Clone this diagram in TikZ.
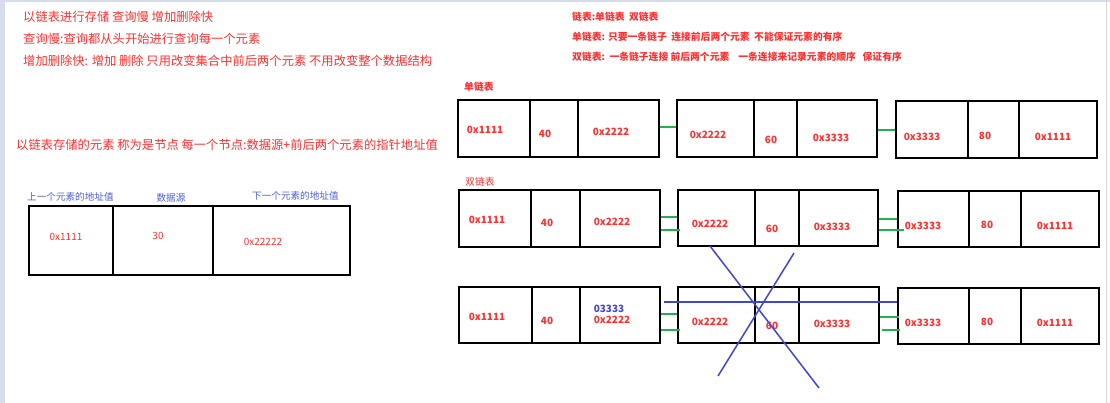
\documentclass[tikz,border=0pt]{standalone}
\usepackage{fontspec}
\setmainfont{Noto Sans CJK SC}
\usetikzlibrary{calc}
\definecolor{redtxt}{HTML}{FF3030}
\definecolor{bluetxt}{HTML}{4E5ED6}
\definecolor{paintblue}{HTML}{3F48CC}
\definecolor{paintgreen}{HTML}{22B14C}
\definecolor{edgeblue}{HTML}{D5DDEB}
\definecolor{edgegray}{HTML}{D6D6D6}
\newcommand\mkbox[7]{%
  \node[listbox, minimum width=#4pt, minimum height=#5pt, anchor=north west] (#1) at (#2,#3) {};
  \draw[divider] (#6,#3) -- (#6,{#3+#5+2});
  \draw[divider] (#7,#3) -- (#7,{#3+#5+2});
}
\begin{document}
\begin{tikzpicture}[x=1pt,y=-1pt,
  listbox/.style={draw=black, line width=1.7pt, inner sep=0pt},
  divider/.style={draw=black, line width=1.5pt},
  link/.style={draw=paintgreen, line width=1.8pt},
  strike/.style={draw=paintblue, line width=1.5pt},
  bigtxt/.style={font=\fontsize{12.3}{14}\selectfont, text=redtxt, anchor=west, inner sep=0pt},
  rtxt/.style={font=\bfseries\fontsize{9.8}{12}\selectfont, text=redtxt, anchor=west, inner sep=0pt},
  lbl/.style={font=\fontsize{9.6}{12}\selectfont, text=bluetxt, inner sep=0pt},
  num/.style={font=\bfseries\fontsize{10}{12}\selectfont, text=redtxt, inner sep=0pt},
  numthin/.style={font=\fontsize{10}{12}\selectfont, text=redtxt, inner sep=0pt}]
\useasboundingbox (0,0) rectangle (1110,403);
\fill[white] (0,0) rectangle (1110,403);
\fill[edgeblue] (0,0) rectangle (5,403);
\fill[edgeblue] (0,0) rectangle (1110,2);
\draw[edgegray, line width=1pt] (1106,0) -- (1106,403);

% top-left notes
\node[bigtxt] (n1) at (23,17) {以链表进行存储 查询慢 增加删除快};
\node[bigtxt] (n2) at (23,39) {查询慢:查询都从头开始进行查询每一个元素};
\node[bigtxt] (n3) at (23,61) {增加删除快: 增加 删除 只用改变集合中前后两个元素 不用改变整个数据结构};
\node[bigtxt] (n4) at (16,145) {以链表存储的元素 称为是节点 每一个节点:数据源+前后两个元素的指针地址值};

% top-right notes
\node[rtxt] (r1) at (572,17) {链表:单链表~~双链表};
\node[rtxt] (r2) at (572,37) {单链表: 只要一条链子~~连接前后两个元素~~不能保证元素的有序};
\node[rtxt] (r3) at (572,57) {双链表:~~一条链子连接 前后两个元素~~~~一条连接来记录元素的顺序~~~保证有序};

% node explanation
\node[lbl, anchor=west] (l1) at (27,197) {上一个元素的地址值};
\node[lbl] (l2) at (171,198) {数据源};
\node[lbl, anchor=west] (l3) at (252,196) {下一个元素的地址值};
\mkbox{nb}{28}{205}{321}{69}{113}{213}
\node[numthin] at (66,237) {0x1111};
\node[numthin] at (158,236) {30};
\node[numthin] at (263,242) {0x22222};

% single linked list
\node[rtxt] (sl) at (464,87) {单链表};
\mkbox{s1}{457}{99}{201}{57}{530}{578}
\mkbox{s2}{676}{99}{200}{57}{754}{797}
\mkbox{s3}{895}{100}{201}{57}{968}{1019}
\node[num] at (485,130) {0x1111};
\node[num] at (545,134) {40};
\node[num] at (611,132) {0x2222};
\node[num] at (708,135) {0x2222};
\node[num] at (771,140) {60};
\node[num] at (831,138) {0x3333};
\node[num] at (922,137) {0x3333};
\node[num] at (985,136) {80};
\node[num] at (1053,137) {0x1111};
\draw[link] (s1.east |- 0,127) -- (s2.west |- 0,127);
\draw[link] (s2.east |- 0,130) -- (s3.west |- 0,130);

% double linked list
\node[font=\fontsize{9.8}{12}\selectfont, text=redtxt, anchor=west, inner sep=0pt] (dl) at (465,182) {双链表};
\mkbox{d1}{458}{189}{201}{57}{531}{580}
\mkbox{d2}{677}{189}{200}{56}{755}{799}
\mkbox{d3}{897}{190}{201}{56}{969}{1021}
\node[num] at (487,220) {0x1111};
\node[num] at (547,223) {40};
\node[num] at (612,222) {0x2222};
\node[num] at (710,224) {0x2222};
\node[num] at (772,229) {60};
\node[num] at (832,227) {0x3333};
\node[num] at (923,226) {0x3333};
\node[num] at (987,225) {80};
\node[num] at (1055,226) {0x1111};
\draw[link] (d1.east |- 0,217) -- (d2.west |- 0,217);
\draw[link] (d1.east |- 0,230) -- ([xshift=3pt]d2.west |- 0,230);
\draw[link] (d2.east |- 0,219) -- (d3.west |- 0,219);
\draw[link] (d2.east |- 0,230) -- ([xshift=7pt]d3.west |- 0,230);

% third row (insertion)
\mkbox{t1}{458}{286}{201}{56}{532}{580}
\mkbox{t2}{677}{286}{201}{56}{755}{799}
\mkbox{t3}{897}{287}{201}{56}{969}{1021}
\node[num] at (487,317) {0x1111};
\node[num] at (547,321) {40};
\node[num, text=paintblue] at (609,309) {03333};
\node[num] at (612,320) {0x2222};
\node[num] at (710,322) {0x2222};
\node[num] at (772,326) {60};
\node[num] at (832,324) {0x3333};
\node[num] at (923,323) {0x3333};
\node[num] at (987,322) {80};
\node[num] at (1055,323) {0x1111};
\draw[link] (t1.east |- 0,314) -- (t2.west |- 0,314);
\draw[link] (t1.east |- 0,330) -- ([xshift=3pt]t2.west |- 0,330);
\draw[link] (t2.east |- 0,317) -- ([xshift=2pt]t3.west |- 0,317);
\draw[link] ([xshift=2pt]t2.east |- 0,330) -- ([xshift=3pt]t3.west |- 0,330);

% blue strike / new pointer
\draw[strike] ([xshift=3pt]t1.east |- 0,302) -- (t3.west |- 0,302);
\draw[strike] (710,246) -- (819,388);
\draw[strike] (794,253) -- (718,376);
\end{tikzpicture}
\end{document}
